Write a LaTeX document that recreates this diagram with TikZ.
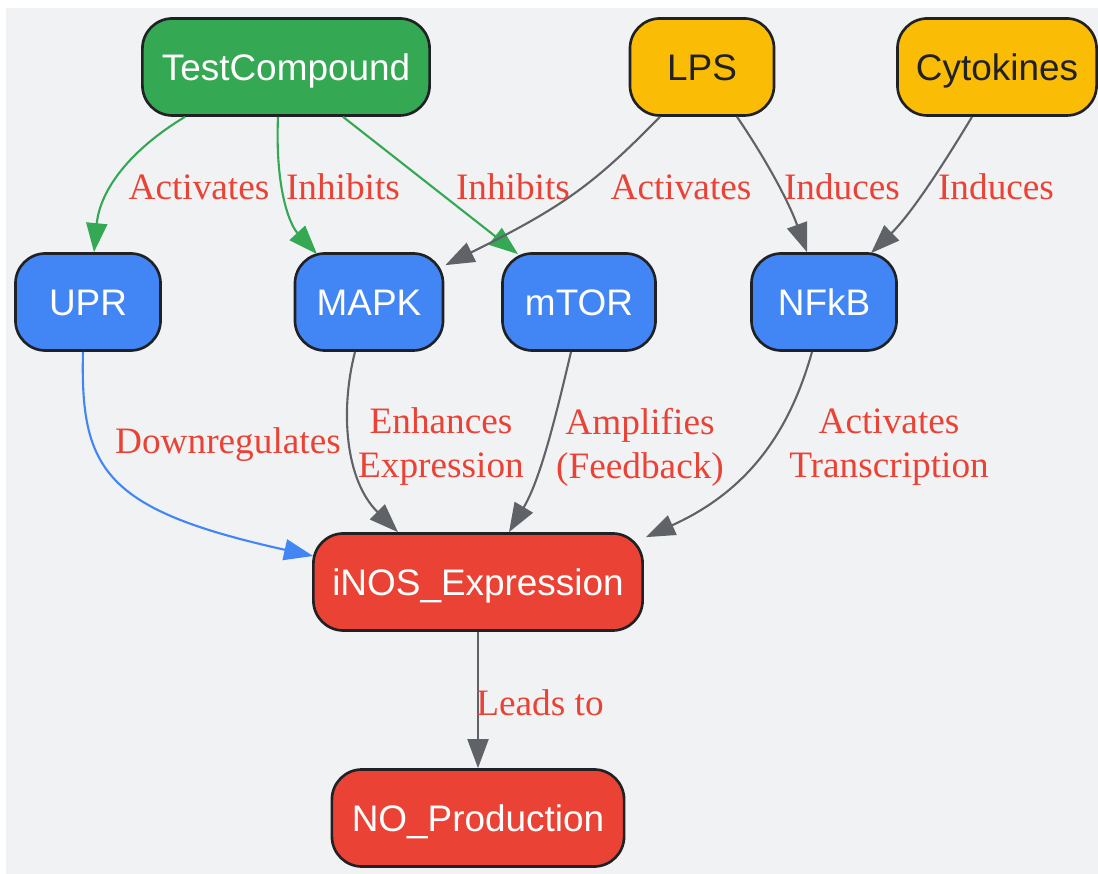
\documentclass[tikz,border=0pt]{standalone}
\usepackage{fontspec}
\setmainfont{Liberation Serif}
\newfontfamily\boxfont{Liberation Sans}
\usetikzlibrary{calc,positioning,arrows.meta}
\definecolor{bggrey}{HTML}{F1F2F4}
\definecolor{boxline}{HTML}{202124}
\definecolor{gfill}{HTML}{34A853}
\definecolor{yfill}{HTML}{FBBC05}
\definecolor{bfill}{HTML}{4285F4}
\definecolor{rfill}{HTML}{EA4335}
\definecolor{edgegrey}{HTML}{5F6368}
\definecolor{lblred}{HTML}{EA4335}
\tikzset{
	>={Triangle[length=0.29cm,width=0.21cm]},
	basebox/.style={
		rectangle,
		rounded corners=0.3cm,
		draw=boxline, line width=0.75pt,
		minimum height=0.97cm,
		inner sep=0pt,
		text height=7.5pt, text depth=0pt,
		text=white,
		font=\boxfont\fontsize{10.5}{12}\selectfont},
	compound/.style={basebox, fill=gfill},
	stimulus/.style={basebox, fill=yfill, text=boxline},
	pathway/.style={basebox, fill=bfill},
	outcome/.style={basebox, fill=rfill},
	line/.style={draw, line width=0.6pt, ->, edgegrey},
	gline/.style={line, gfill},
	bline/.style={line, bfill},
	elabel/.style={text=lblred, align=center, inner sep=0pt,
		font=\fontsize{10.6}{12.5}\selectfont},
}

\begin{document}
\begin{tikzpicture}[x=0.01cm, y=-0.01cm]
	\useasboundingbox (0,0) rectangle (1098,874);
	\fill[bggrey] (6,8) rectangle (1098,874);
	% top row
	\node[compound, minimum width=2.87cm] (tc)  at (286,67) {TestCompound};
	\node[stimulus, minimum width=1.44cm] (lps) at (702,67) {LPS};
	\node[stimulus, minimum width=1.99cm] (cyt) at (997,67) {Cytokines};
	% pathways
	\node[pathway, minimum width=1.45cm] (upr)  at (88,302)  {UPR};
	\node[pathway, minimum width=1.48cm] (mapk) at (369,302) {MAPK};
	\node[pathway, minimum width=1.53cm] (mtor) at (579,302) {mTOR};
	\node[pathway, minimum width=1.45cm] (nfkb) at (824,302) {NFkB};
	% outcome
	\node[outcome, minimum width=3.29cm] (inos) at (478,582) {iNOS\_Expression};
	\node[outcome, minimum width=2.92cm] (no)   at (478,818) {NO\_Production};

	\draw[gline] ($(tc.south)+(-101,0)$) .. controls (130,150) and (100,190) .. ($(upr.north)+(6,0)$);
	\draw[gline] ($(tc.south)+(-8,0)$) .. controls (275,190) and (290,225) .. ($(mapk.north)+(-52,2)$);
	\draw[gline] ($(tc.south)+(57,0)$) -- ($(mtor.north)+(-61,2)$);
	\draw[line] ($(lps.south)+(-42,0)$) .. controls (595,183) and (565,206) .. ($(mapk.north east)+(1,13)$);
	\draw[line] ($(lps.south)+(35,0)$) .. controls (765,158) and (788,200) .. ($(nfkb.north)+(-17,0)$);
	\draw[line] ($(cyt.south)+(-25,0)$) .. controls (940,170) and (910,215) .. ($(nfkb.north)+(47,1)$);
	\draw[bline] ($(upr.south)+(-5,0)$) .. controls (80,470) and (105,510) .. ($(inos.west)+(1,-26)$);
	\draw[line] ($(mapk.south)+(-14,0)$) .. controls (340,410) and (345,480) .. ($(inos.north)+(-80,0)$);
	\draw[line] ($(mtor.south)+(-8,0)$) .. controls (555,420) and (540,480) .. ($(inos.north)+(31,0)$);
	\draw[line] ($(nfkb.south)+(-12,0)$) .. controls (790,430) and (750,490) .. ($(inos.north east)+(2,5)$);
	\draw[line] (inos) -- (no);

	% edge labels
	\node[elabel] (l1)  at (199,187) {Activates};
	\node[elabel] (l2)  at (343,187) {Inhibits};
	\node[elabel] (l3)  at (513,187) {Inhibits};
	\node[elabel] (l4)  at (681,187) {Activates};
	\node[elabel] (l5)  at (842,187) {Induces};
	\node[elabel] (l6)  at (996,187) {Induces};
	\node[elabel] (l7)  at (228,445) {Downregulates};
	\node[elabel] (l8)  at (441,447) {Enhances\\Expression};
	\node[elabel] (l9)  at (640,447) {Amplifies\\(Feedback)};
	\node[elabel] (l10) at (889,447) {Activates\\Transcription};
	\node[elabel] (l11) at (540,703) {Leads to};
\end{tikzpicture}
\end{document}
